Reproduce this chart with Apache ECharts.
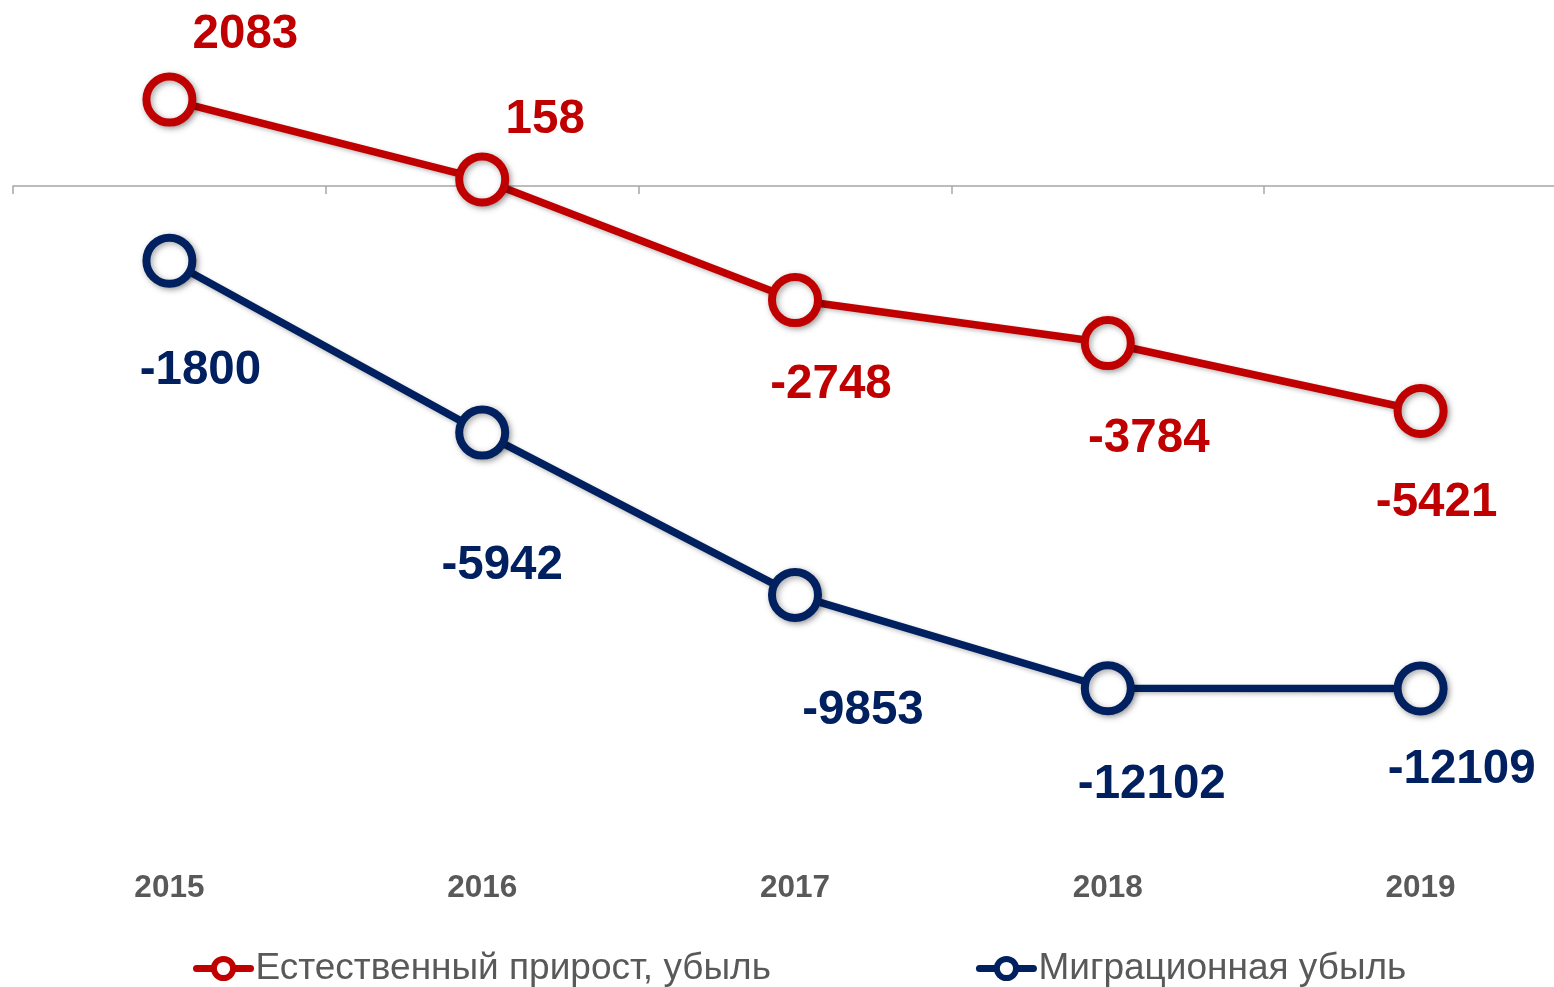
<!DOCTYPE html>
<html>
<head>
<meta charset="utf-8">
<title>Естественный прирост и миграционная убыль</title>
<script src="https://cdn.jsdelivr.net/npm/echarts@6/dist/echarts.min.js"></script>
<style>
    html, body { margin: 0; padding: 0; background: #fff; }
    #chart { width: 1554px; height: 987px; }
</style>
</head>
<body>
<div id="chart"></div>
<script>
var years = ['2015', '2016', '2017', '2018', '2019'];
var natural = [2083, 158, -2748, -3784, -5421];
var migration = [-1800, -5942, -9853, -12102, -12109];
var seriesNames = ['Естественный прирост, убыль', 'Миграционная убыль'];

// сдвиги подписей относительно точек
var naturalOffsets = [[76, -65], [63, -60], [36, 85], [41, 96], [16, 92]];
var migrationOffsets = [[31, 110], [20, 133], [68, 116], [44, 97], [41, 81]];

var red = '#C00000';
var blue = '#002060';

function buildData(values, offsets) {
    var out = [];
    for (var i = 0; i < values.length; i++) {
        out.push({
            value: values[i],
            label: { offset: offsets[i] }
        });
    }
    return out;
}

function lineSeries(name, color, values, offsets) {
    return {
        name: name,
        type: 'line',
        xAxisIndex: 0,
        symbol: 'circle',
        symbolSize: 46,
        lineStyle: {
            color: color,
            width: 7.5,
            shadowColor: 'rgba(0,0,0,0.25)',
            shadowBlur: 4,
            shadowOffsetX: 1,
            shadowOffsetY: 2
        },
        itemStyle: {
            color: '#fff',
            borderColor: color,
            borderWidth: 8,
            shadowColor: 'rgba(0,0,0,0.35)',
            shadowBlur: 6,
            shadowOffsetX: 2,
            shadowOffsetY: 2
        },
        label: {
            show: true,
            position: 'inside',
            color: color,
            fontFamily: 'Liberation Sans',
            fontWeight: 'bold',
            fontSize: 47.5
        },
        emphasis: { disabled: true },
        animation: false,
        data: buildData(values, offsets)
    };
}

var option = {
    backgroundColor: '#fff',
    grid: {
        left: 13,
        width: 1564,
        top: 20,
        bottom: 137,
        outerBoundsMode: 'none'
    },
    legend: {
        left: 188,
        top: 945,
        itemGap: 205,
        itemWidth: 54,
        itemHeight: 24,
        lineStyle: { width: 7, cap: 'round' },
        itemStyle: { borderWidth: 6 },
        textStyle: {
            color: '#595959',
            fontFamily: 'Liberation Sans',
            fontSize: 37
        },
        data: seriesNames
    },
    xAxis: [{
        type: 'category',
        position: 'bottom',
        boundaryGap: true,
        data: years,
        axisLine: {
            onZero: true,
            lineStyle: { color: '#a6a6a6', width: 1.5 }
        },
        axisTick: {
            show: true,
            length: 8,
            lineStyle: { color: '#a6a6a6', width: 1.5 }
        },
        axisLabel: { show: false },
        splitLine: { show: false }
    }, {
        type: 'category',
        position: 'bottom',
        boundaryGap: true,
        data: years,
        axisLine: { show: false, onZero: false },
        axisTick: { show: false },
        axisLabel: {
            margin: 22,
            color: '#595959',
            fontFamily: 'Liberation Sans',
            fontWeight: 'bold',
            fontSize: 31.5
        },
        splitLine: { show: false }
    }],
    yAxis: {
        type: 'value',
        min: -16000,
        max: 4000,
        show: false,
        splitLine: { show: false }
    },
    series: [
        lineSeries(seriesNames[0], red, natural, naturalOffsets),
        lineSeries(seriesNames[1], blue, migration, migrationOffsets)
    ]
};

var myChart = echarts.init(document.getElementById('chart'));
myChart.setOption(option);
</script>
</body>
</html>
